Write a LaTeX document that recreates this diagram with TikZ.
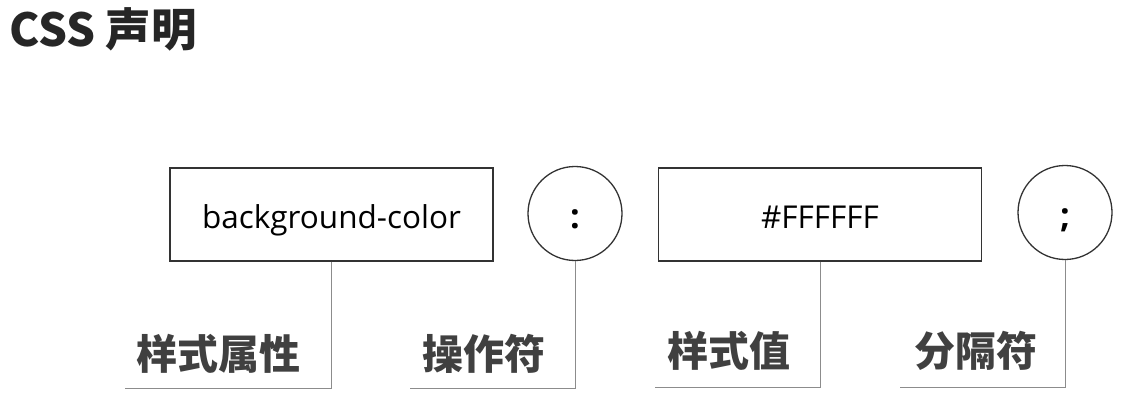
\documentclass[tikz,border=0pt]{standalone}
\usepackage{fontspec}
\setmainfont{Open Sans}
\newfontfamily\cjk{Noto Sans CJK SC}
\usetikzlibrary{positioning}

\begin{document}
\begin{tikzpicture}[x=1pt,y=-1pt,
  part/.style={draw=black!80, line width=1.3pt, minimum width=323pt, minimum height=93pt,
    inner sep=0pt, text height=28.5pt, text depth=0pt, font=\fontsize{31.5}{33}\selectfont},
  sym/.style={circle, draw=black!80, line width=1.3pt, minimum size=94pt, inner sep=0pt,
    text height=29pt, text depth=0pt, font=\bfseries\fontsize{34}{34}\selectfont},
  lbl/.style={anchor=base east, inner sep=0pt, text=black!75,
    font=\cjk\bfseries\fontsize{41}{41}\selectfont},
  lead/.style={draw=black!45, line width=1pt}]

  \useasboundingbox (0,0) rectangle (1137,401);

  \node[anchor=base west, inner sep=0pt, font=\cjk\bfseries\fontsize{45.5}{46}\selectfont,
    text=black!85] (title) at (9,47) {CSS 声明};

  % the four parts of a declaration
  \node[part] (prop) at (331.5,214.5) {background-color};
  \node[sym] (colon) at (575,213.5) {:};
  \node[part] (val) at (820,214.5) {\#FFFFFF};
  \node[sym] (semi) at (1065,212.5) {;};

  % ends of the leader lines
  \coordinate (prop-end) at (125,388);
  \coordinate (colon-end) at (410,388);
  \coordinate (val-end) at (655,387);
  \coordinate (semi-end) at (900,387);

  \draw[lead] (prop.south) |- (prop-end);
  \draw[lead] (colon.south) |- (colon-end);
  \draw[lead] (val.south) |- (val-end);
  \draw[lead] (semi.south) |- (semi-end);

  \node[lbl] (prop-lbl) at (301,369) {样式属性};
  \node[lbl] (colon-lbl) at (546,369) {操作符};
  \node[lbl] (val-lbl) at (791,366) {样式值};
  \node[lbl] (semi-lbl) at (1038,366) {分隔符};

\end{tikzpicture}
\end{document}
